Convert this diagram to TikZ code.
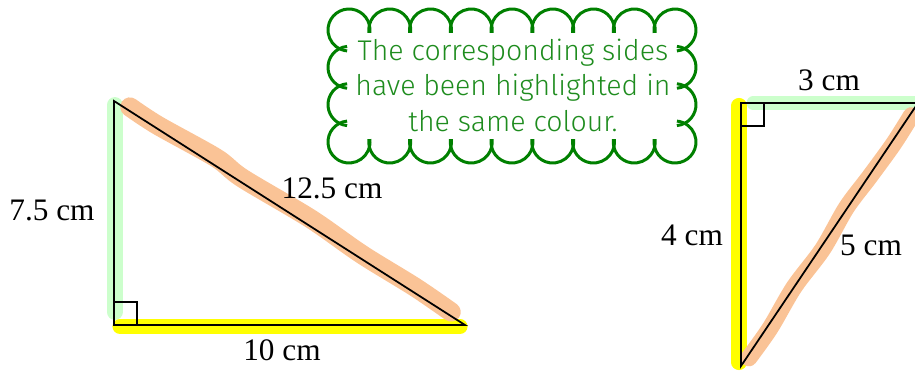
\documentclass[tikz,border=0pt]{standalone}
\usepackage{fontspec}
\setmainfont{Liberation Serif}
\newfontfamily\cloudfont{Fira Sans Light}
\usetikzlibrary{calc}
\definecolor{cloudgreen}{RGB}{0,128,0}
\definecolor{notegreen}{RGB}{30,140,30}
\definecolor{hlgreen}{RGB}{204,255,204}
\definecolor{hlyellow}{RGB}{255,255,0}
\definecolor{hlpeach}{RGB}{250,195,150}
\tikzset{
  side/.style={line width=0.5pt, black},
  rightangle/.style={line width=0.7pt, black},
  highlighter/.style={line cap=round, line width=#1},
  lengthlabel/.style={font=\fontsize{8.9}{11}\selectfont, inner sep=0pt, anchor=base},
  puff/.style={cloudgreen, line width=0.85pt},
}
\begin{document}
\begin{tikzpicture}
  \useasboundingbox (0,0) rectangle (9.15,3.72);
  \clip (0,0) rectangle (9.15,3.72);
  % Vertices
  \coordinate (A) at (1.14,2.71);
  \coordinate (B) at (1.14,0.47);
  \coordinate (C) at (4.65,0.47);
  \coordinate (D) at (7.41,2.69);
  \coordinate (E) at (9.18,2.69);
  \coordinate (F) at (7.41,0.06);
  % Highlighted sides, large triangle
  \draw[highlighter=4.5pt, hlgreen] ($(A)+(0.007,-0.04)$) -- ($(B)+(0.007,0.13)$);
  \draw[highlighter=4.3pt, hlyellow] ($(B)+(0.06,-0.015)$) -- ($(C)+(-0.05,-0.015)$);
  \draw[highlighter=5.5pt, hlpeach] plot[smooth] coordinates {
    ($(A)!0.04!(C)!0.035cm!90:(C)$) ($(A)!0.12!(C)!0.03cm!90:(C)$)
    ($(A)!0.28!(C)!0.07cm!90:(C)$) ($(A)!0.36!(C)!0.04cm!90:(C)$)
    ($(A)!0.55!(C)!0.065cm!90:(C)$) ($(A)!0.7!(C)!0.04cm!90:(C)$)
    ($(A)!0.85!(C)!0.05cm!90:(C)$) ($(A)!0.955!(C)!0.035cm!90:(C)$)};
  % Highlighted sides, small triangle
  \draw[highlighter=3.7pt, hlgreen] ($(D)+(0.12,0)$) -- ($(E)+(0.1,0)$);
  \draw[highlighter=4.3pt, hlyellow] ($(D)+(-0.02,-0.025)$) -- ($(F)+(-0.02,0.035)$);
  \draw[highlighter=4.8pt, hlpeach] plot[smooth] coordinates {
    ($(F)!0.035!(E)!-0.02cm!90:(E)$) ($(F)!0.15!(E)!-0.03cm!90:(E)$)
    ($(F)!0.3!(E)!0cm!90:(E)$) ($(F)!0.45!(E)!-0.025cm!90:(E)$)
    ($(F)!0.6!(E)!0.01cm!90:(E)$) ($(F)!0.72!(E)!-0.01cm!90:(E)$)
    ($(F)!0.85!(E)!-0.025cm!90:(E)$) ($(F)!0.955!(E)!-0.015cm!90:(E)$)};
  % Triangles
  \draw[side] (A) -- (B) -- (C) -- cycle;
  \draw[side] (D) -- (E) -- (F) -- cycle;
  \draw[rightangle] (B) rectangle ++(0.23,0.23);
  \draw[rightangle] (D) rectangle ++(0.23,-0.23);
  % Side lengths
  \node[lengthlabel] (lAB) at (0.52,1.52) {7.5 cm};
  \node[lengthlabel] (lAC) at (3.32,1.74) {12.5 cm};
  \node[lengthlabel] (lBC) at (2.82,0.12) {10 cm};
  \node[lengthlabel] (lDF) at (6.92,1.27) {4 cm};
  \node[lengthlabel] (lEF) at (8.71,1.17) {5 cm};
  \node[lengthlabel] (lDE) at (8.29,2.82) {3 cm};
  % Cloud
  \foreach \i in {1,...,7} {
    \draw[puff] ({3.49+0.4075*\i},3.42) ++(-8:0.21) arc[start angle=-8, end angle=188, radius=0.21];
    \draw[puff] ({3.49+0.4075*\i},2.30) ++(172:0.21) arc[start angle=172, end angle=368, radius=0.21];
  }
  \foreach \y in {3.0467,2.6733} {
    \draw[puff] (3.49,\y) ++(95.2:0.21) arc[start angle=95.2, end angle=264.8, radius=0.21];
    \draw[puff] (6.75,\y) ++(-84.8:0.21) arc[start angle=-84.8, end angle=84.8, radius=0.21];
  }
  \draw[puff] (3.49,3.42) ++(-8:0.21) arc[start angle=-8, end angle=264.8, radius=0.21];
  \draw[puff] (6.75,3.42) ++(-84.8:0.21) arc[start angle=-84.8, end angle=188, radius=0.21];
  \draw[puff] (6.75,2.30) ++(172:0.21) arc[start angle=172, end angle=444.8, radius=0.21];
  \draw[puff] (3.49,2.30) ++(95.2:0.21) arc[start angle=95.2, end angle=368, radius=0.21];
  \node[font=\cloudfont\fontsize{8.1}{10.1}\selectfont, text=notegreen, align=center] (note) at (5.13,2.87)
    {The corresponding sides\\have been highlighted in\\the same colour.};
\end{tikzpicture}
\end{document}
